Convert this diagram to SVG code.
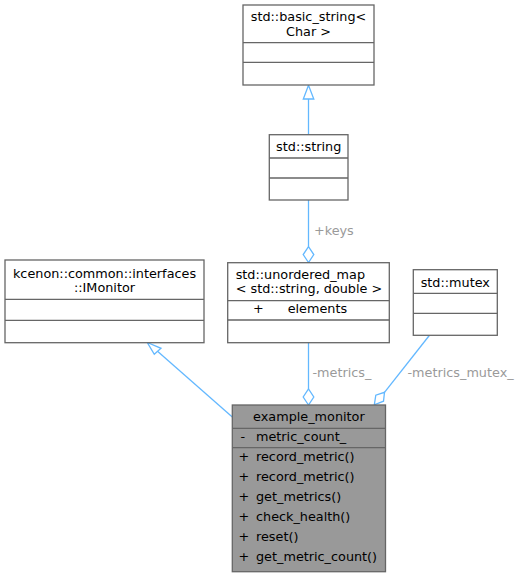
<svg xmlns="http://www.w3.org/2000/svg" width="523" height="576" viewBox="0 0 523 576">
<style>
text{font-family:"DejaVu Sans","Liberation Sans",sans-serif;font-size:12.8px;fill:#000}
.c{text-anchor:middle}
.box{fill:#fff;stroke:#666;stroke-width:1.3}
.main{fill:#999;stroke:#666;stroke-width:1.3}
.div{stroke:#666;stroke-width:1.3;fill:none}
.edge{stroke:#63b8ff;stroke-width:1.3;fill:none}
.head{stroke:#63b8ff;stroke-width:1.3;fill:#fff}
.lbl{fill:#9a9a9a}
</style>
<rect width="523" height="576" fill="#fff"/>
<g id="connectors">
<path class="edge" d="M308.5,134.7 V99"/>
<polygon class="head" points="308.5,85.3 303.3,99 313.8,99"/>
<path class="edge" d="M308.5,200 V246.7"/>
<polygon class="head" points="308.5,262.5 303.2,254.6 308.5,246.7 313.8,254.6"/>
<text class="lbl" x="314" y="235">+keys</text>
<path class="edge" d="M308.5,342.7 V389"/>
<polygon class="head" points="308.5,405 303.2,397 308.5,389 313.8,397"/>
<text class="lbl" x="312.5" y="377">-metrics_</text>
<path class="edge" d="M429.3,335.5 L384.5,392.3"/>
<polygon class="head" points="374.3,404.8 375.8,395.2 384.5,392.3 383.5,401.2"/>
<text class="lbl" x="407.5" y="377">-metrics_mutex_</text>
<path class="edge" d="M232.3,417 L157.5,351.3"/>
<polygon class="head" points="147.3,342.5 161,348.3 154.3,354.3"/>
</g>
<g id="basic_string">
<rect class="box" x="243" y="5" width="131" height="80"/>
<path class="div" d="M243,42.7 H374 M243,62.3 H374"/>
<text class="c" x="308.5" y="21">std::basic_string&lt;</text>
<text class="c" x="308.5" y="36">Char &gt;</text>
</g>
<g id="string">
<rect class="box" x="269.3" y="134.7" width="78.7" height="65.3"/>
<path class="div" d="M269.3,158 H348 M269.3,178 H348"/>
<text class="c" x="308.7" y="151">std::string</text>
</g>
<g id="imonitor">
<rect class="box" x="5" y="260" width="199" height="82.7"/>
<path class="div" d="M5,299.3 H204 M5,320.3 H204"/>
<text class="c" x="104.5" y="278">kcenon::common::interfaces</text>
<text class="c" x="104.5" y="292.3">::IMonitor</text>
</g>
<g id="unordered_map">
<rect class="box" x="227.7" y="262.7" width="161.6" height="80"/>
<path class="div" d="M227.7,300.7 H389.3 M227.7,320 H389.3"/>
<text x="235.7" y="278.5">std::unordered_map</text>
<text x="235.7" y="292.5">&lt; std::string, double &gt;</text>
<text x="253" y="312.7">+</text>
<text x="287.7" y="312.7">elements</text>
</g>
<g id="mutex">
<rect class="box" x="413.3" y="269.7" width="84" height="65.6"/>
<path class="div" d="M413.3,293.3 H497.3 M413.3,313.3 H497.3"/>
<text class="c" x="455.3" y="286.7">std::mutex</text>
</g>
<g id="example_monitor">
<rect class="main" x="232.3" y="405" width="153.2" height="166.7"/>
<path class="div" d="M232.3,428.3 H385.5 M232.3,447.7 H385.5"/>
<text class="c" x="308.9" y="421">example_monitor</text>
<text x="240.5" y="440.7">-</text>
<text x="256" y="440.7">metric_count_</text>
<text x="238.5" y="460.7">+</text>
<text x="256" y="460.7">record_metric()</text>
<text x="238.5" y="480.7">+</text>
<text x="256" y="480.7">record_metric()</text>
<text x="238.5" y="500.7">+</text>
<text x="256" y="500.7">get_metrics()</text>
<text x="238.5" y="520.7">+</text>
<text x="256" y="520.7">check_health()</text>
<text x="238.5" y="540.7">+</text>
<text x="256" y="540.7">reset()</text>
<text x="238.5" y="560.7">+</text>
<text x="256" y="560.7">get_metric_count()</text>
</g>
</svg>
